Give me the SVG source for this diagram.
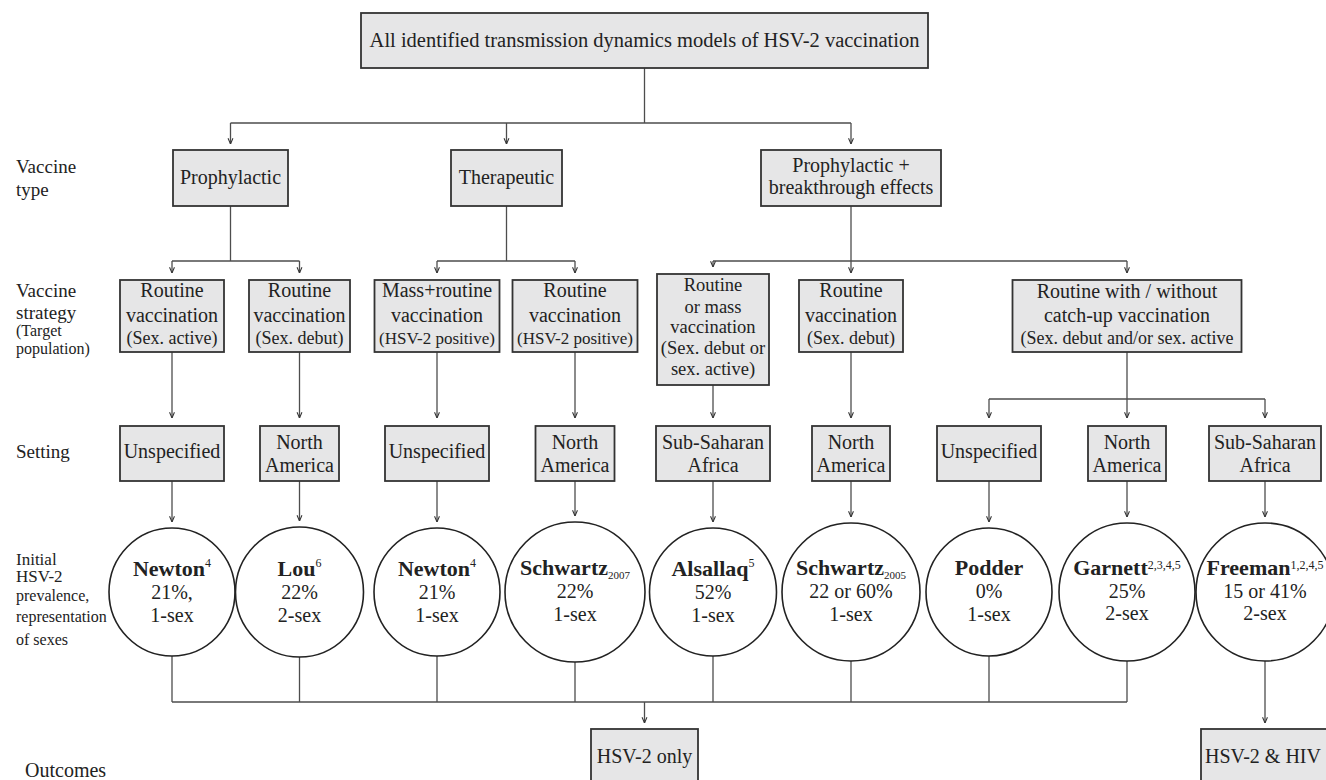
<svg xmlns="http://www.w3.org/2000/svg" width="1326" height="780" viewBox="0 0 1326 780" font-family="'Liberation Serif', 'Times New Roman', 'DejaVu Serif', serif">
<defs>
<marker id="ah" viewBox="0 0 8 8" refX="7.5" refY="4" markerWidth="7" markerHeight="7" markerUnits="userSpaceOnUse" orient="auto"><path d="M1,1.2 L7.5,4 L1,6.8" fill="none" stroke="#333" stroke-width="1.2"/></marker>
</defs>
<style>
.box{fill:#e6e6e7;stroke:#333;stroke-width:1.8}
.ell{fill:#fff;stroke:#222;stroke-width:1.6}
.ln{fill:none;stroke:#4d4d4d;stroke-width:1.3}
.ar{fill:none;stroke:#4d4d4d;stroke-width:1.3;marker-end:url(#ah)}
text{font-family:'Liberation Serif','Times New Roman','DejaVu Serif',serif;fill:#222}
.t{font-size:20px;text-anchor:middle}
.s{font-size:18px;text-anchor:middle}
.s17{font-size:17px;text-anchor:middle}
.b5{font-size:18.5px;text-anchor:middle}
.lab{font-size:19px}
.lab2{font-size:16px}
.nm{font-size:22px;font-weight:bold;text-anchor:middle}
.sup{font-size:12px;font-weight:normal}
</style>

<g id="connectors">
<path class="ln" d="M644.5,68 V123 M230.5,123 H851"/>
<path class="ar" d="M230.5,123 V144"/>
<path class="ar" d="M506.5,123 V144"/>
<path class="ar" d="M851,123 V144"/>
<path class="ln" d="M230.5,206 V261 M172,261 H299.5"/>
<path class="ar" d="M172,261 V273"/>
<path class="ar" d="M299.5,261 V273"/>
<path class="ln" d="M506.5,206 V261 M437,261 H575"/>
<path class="ar" d="M437,261 V273"/>
<path class="ar" d="M575,261 V273"/>
<path class="ln" d="M713,261 H1127"/>
<path class="ar" d="M851,206 V273"/>
<path class="ar" d="M713,261 V267"/>
<path class="ar" d="M1127,261 V273"/>
<path class="ar" d="M172,352 V418"/>
<path class="ar" d="M299.5,352 V418"/>
<path class="ar" d="M437,352 V418"/>
<path class="ar" d="M575,352 V418"/>
<path class="ar" d="M713,385 V418"/>
<path class="ar" d="M851,352 V418"/>
<path class="ln" d="M1127,352 V399 M989,399 H1265"/>
<path class="ar" d="M989,399 V418"/>
<path class="ar" d="M1127,399 V418"/>
<path class="ar" d="M1265,399 V418"/>
<path class="ar" d="M172,481 V522"/>
<path class="ar" d="M299.5,481 V521"/>
<path class="ar" d="M437,481 V522"/>
<path class="ar" d="M575,481 V516"/>
<path class="ar" d="M713,481 V522"/>
<path class="ar" d="M851,481 V517"/>
<path class="ar" d="M989,481 V522"/>
<path class="ar" d="M1127,481 V517"/>
<path class="ar" d="M1265,481 V517"/>
<path class="ln" d="M172,656 V702 M299.5,657 V702 M437,656 V702 M575,662 V702 M713,656 V702 M851,661 V702 M989,656 V702 M1127,661 V702 M172,702 H1127"/>
<path class="ar" d="M644.5,702 V723"/>
<path class="ar" d="M1265,661 V723"/>
</g>

<g id="row-labels">
<text class="lab" x="16" y="173">Vaccine</text>
<text class="lab" x="16" y="196">type</text>
<text class="lab" x="16" y="297">Vaccine</text>
<text class="lab" x="16" y="319">strategy</text>
<text class="lab2" x="16" y="336">(Target</text>
<text class="lab2" x="16" y="354">population)</text>
<text class="lab" x="16" y="458">Setting</text>
<text class="lab2" x="16" y="565" style="font-size:17px">Initial</text>
<text class="lab2" x="16" y="582" style="font-size:17px">HSV-2</text>
<text class="lab2" x="16" y="601">prevalence,</text>
<text class="lab2" x="16" y="622">representation</text>
<text class="lab2" x="16" y="645">of sexes</text>
<text class="lab" x="25" y="777" style="font-size:20px">Outcomes</text>
</g>

<g id="root"><rect class="box" x="361" y="13" width="567" height="55"/><text class="t" x="644.5" y="47" style="font-size:20.5px">All identified transmission dynamics models of HSV-2 vaccination</text></g>

<g id="type-prophylactic"><rect class="box" x="173" y="150" width="115" height="56"/><text class="t" x="230.5" y="184">Prophylactic</text></g>
<g id="type-therapeutic"><rect class="box" x="451" y="150" width="111" height="56"/><text class="t" x="506.5" y="184">Therapeutic</text></g>
<g id="type-prophylactic-breakthrough"><rect class="box" x="761" y="150" width="180" height="56"/><text class="t" x="851" y="172">Prophylactic +</text><text class="t" x="851" y="194">breakthrough effects</text></g>

<g id="strat-1"><rect class="box" x="120" y="280" width="104" height="72"/><text class="t" x="172" y="297">Routine</text><text class="t" x="172" y="322">vaccination</text><text class="s" x="172" y="344">(Sex. active)</text></g>
<g id="strat-2"><rect class="box" x="249" y="280" width="101" height="72"/><text class="t" x="299.5" y="297">Routine</text><text class="t" x="299.5" y="322">vaccination</text><text class="s" x="299.5" y="344">(Sex. debut)</text></g>
<g id="strat-3"><rect class="box" x="374.5" y="280" width="125" height="72"/><text class="t" x="437" y="297">Mass+routine</text><text class="t" x="437" y="322">vaccination</text><text class="s17" x="437" y="344">(HSV-2 positive)</text></g>
<g id="strat-4"><rect class="box" x="512.5" y="280" width="125" height="72"/><text class="t" x="575" y="297">Routine</text><text class="t" x="575" y="322">vaccination</text><text class="s17" x="575" y="344">(HSV-2 positive)</text></g>
<g id="strat-5"><rect class="box" x="657" y="274" width="112" height="111"/><text class="b5" x="713" y="291">Routine</text><text class="b5" x="713" y="313">or mass</text><text class="b5" x="713" y="333">vaccination</text><text class="b5" x="713" y="354">(Sex. debut or</text><text class="b5" x="713" y="375">sex. active)</text></g>
<g id="strat-6"><rect class="box" x="799" y="280" width="104" height="72"/><text class="t" x="851" y="297">Routine</text><text class="t" x="851" y="322">vaccination</text><text class="s" x="851" y="344">(Sex. debut)</text></g>
<g id="strat-7"><rect class="box" x="1012.5" y="280" width="229" height="72"/><text class="t" x="1127" y="298">Routine with / without</text><text class="t" x="1127" y="322">catch-up vaccination</text><text class="s" x="1127" y="344">(Sex. debut and/or sex. active</text></g>

<g id="set-1"><rect class="box" x="120" y="426" width="104" height="55"/><text class="t" x="172" y="458">Unspecified</text></g>
<g id="set-2"><rect class="box" x="260" y="426" width="79" height="55"/><text class="t" x="299.5" y="449">North</text><text class="t" x="299.5" y="472">America</text></g>
<g id="set-3"><rect class="box" x="385" y="426" width="104" height="55"/><text class="t" x="437" y="458">Unspecified</text></g>
<g id="set-4"><rect class="box" x="535.5" y="426" width="79" height="55"/><text class="t" x="575" y="449">North</text><text class="t" x="575" y="472">America</text></g>
<g id="set-5"><rect class="box" x="656" y="426" width="114" height="55"/><text class="t" x="713" y="449">Sub-Saharan</text><text class="t" x="713" y="472">Africa</text></g>
<g id="set-6"><rect class="box" x="812" y="426" width="78" height="55"/><text class="t" x="851" y="449">North</text><text class="t" x="851" y="472">America</text></g>
<g id="set-7"><rect class="box" x="937" y="426" width="104" height="55"/><text class="t" x="989" y="458">Unspecified</text></g>
<g id="set-8"><rect class="box" x="1088" y="426" width="78" height="55"/><text class="t" x="1127" y="449">North</text><text class="t" x="1127" y="472">America</text></g>
<g id="set-9"><rect class="box" x="1209" y="426" width="112" height="55"/><text class="t" x="1265" y="449">Sub-Saharan</text><text class="t" x="1265" y="472">Africa</text></g>

<g id="model-newton-a"><ellipse class="ell" cx="172" cy="592" rx="63" ry="64"/><text class="nm" x="172" y="576">Newton<tspan class="sup" dy="-9">4</tspan></text><text class="t" x="172" y="599">21%,</text><text class="t" x="172" y="622">1-sex</text></g>
<g id="model-lou"><ellipse class="ell" cx="299.5" cy="592" rx="64" ry="65"/><text class="nm" x="299.5" y="576">Lou<tspan class="sup" dy="-9">6</tspan></text><text class="t" x="299.5" y="599">22%</text><text class="t" x="299.5" y="622">2-sex</text></g>
<g id="model-newton-b"><ellipse class="ell" cx="437" cy="592" rx="63" ry="64"/><text class="nm" x="437" y="576">Newton<tspan class="sup" dy="-9">4</tspan></text><text class="t" x="437" y="599">21%</text><text class="t" x="437" y="622">1-sex</text></g>
<g id="model-schwartz2007"><ellipse class="ell" cx="575" cy="592" rx="70" ry="70"/><text class="nm" x="575" y="575">Schwartz<tspan class="sup" style="font-size:11px" dy="4">2007</tspan></text><text class="t" x="575" y="598">22%</text><text class="t" x="575" y="621">1-sex</text></g>
<g id="model-alsallaq"><ellipse class="ell" cx="713" cy="592" rx="63.5" ry="64"/><text class="nm" x="713" y="576">Alsallaq<tspan class="sup" dy="-9">5</tspan></text><text class="t" x="713" y="599">52%</text><text class="t" x="713" y="622">1-sex</text></g>
<g id="model-schwartz2005"><ellipse class="ell" cx="851" cy="592" rx="69" ry="69"/><text class="nm" x="851" y="575">Schwartz<tspan class="sup" style="font-size:11px" dy="4">2005</tspan></text><text class="t" x="851" y="598">22 or 60%</text><text class="t" x="851" y="621">1-sex</text></g>
<g id="model-podder"><ellipse class="ell" cx="989" cy="592" rx="63" ry="64"/><text class="nm" x="989" y="575">Podder</text><text class="t" x="989" y="598">0%</text><text class="t" x="989" y="621">1-sex</text></g>
<g id="model-garnett"><ellipse class="ell" cx="1127" cy="592" rx="68" ry="69"/><text class="nm" x="1127" y="575">Garnett<tspan class="sup" dy="-6">2,3,4,5</tspan></text><text class="t" x="1127" y="598">25%</text><text class="t" x="1127" y="620">2-sex</text></g>
<g id="model-freeman"><ellipse class="ell" cx="1265" cy="592" rx="69" ry="69"/><text class="nm" x="1265" y="575">Freeman<tspan class="sup" dy="-6">1,2,4,5</tspan></text><text class="t" x="1265" y="598">15 or 41%</text><text class="t" x="1265" y="620">2-sex</text></g>

<g id="outcome-hsv2"><rect class="box" x="591" y="729" width="107" height="62"/><text class="t" x="644.5" y="763">HSV-2 only</text></g>
<g id="outcome-hsv2-hiv"><rect class="box" x="1201" y="729" width="140" height="62"/><text class="t" x="1263" y="763">HSV-2 &amp; HIV</text></g>
</svg>
